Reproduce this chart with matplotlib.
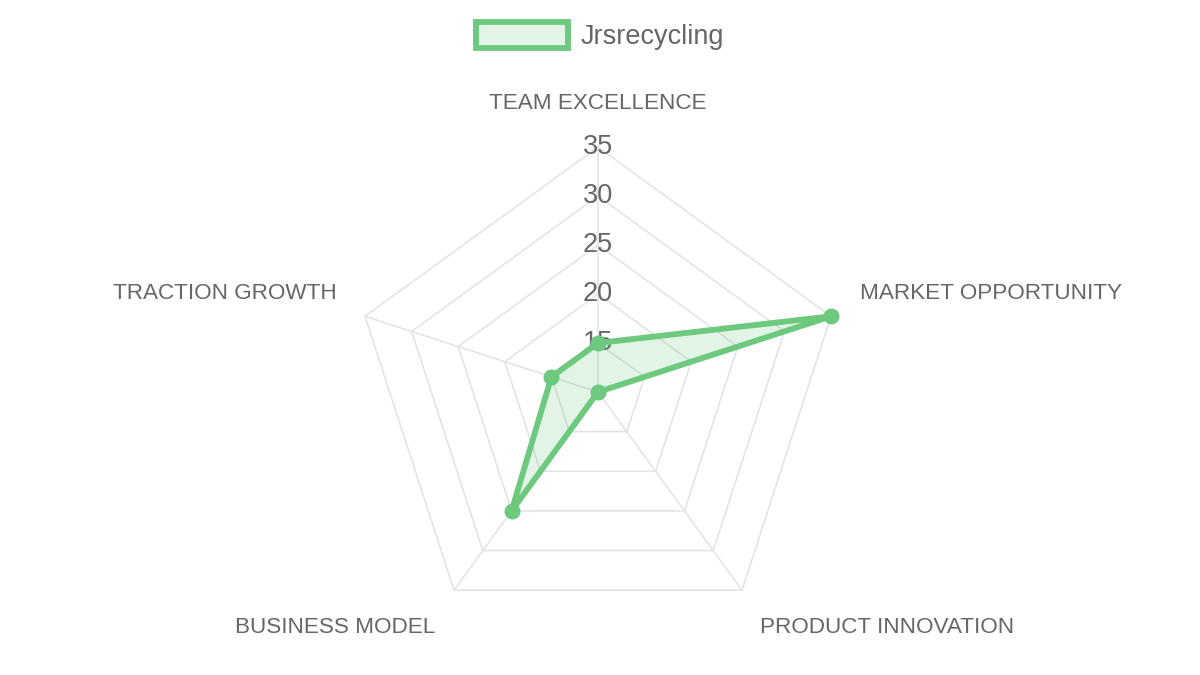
import numpy as np
import matplotlib
matplotlib.use("Agg")
import matplotlib.pyplot as plt
from matplotlib.patches import Patch

plt.rcParams['font.family'] = ['Liberation Sans', 'DejaVu Sans']

categories = ["TEAM EXCELLENCE", "MARKET OPPORTUNITY", "PRODUCT INNOVATION",
              "BUSINESS MODEL", "TRACTION GROWTH"]
values = [15, 35, 10, 25, 15]
series_name = "Jrsrecycling"
tick_values = [15, 20, 25, 30, 35]
r_min, r_max = 10, 35

line_color = "#6cc97d"
fill_color = (108/255, 201/255, 125/255, 0.2)
grid_color = "#e2e2e2"
text_color = "#666666"

fig = plt.figure(figsize=(12, 6.75), dpi=100)
ax = fig.add_axes([0.2942, 0.0563, 0.4083, 0.7259], projection="polar")
ax.set_theta_zero_location("N")
ax.set_theta_direction(-1)
ax.set_ylim(r_min, r_max)
ax.grid(False)
ax.spines["polar"].set_visible(False)
ax.set_xticks([])
ax.set_yticks([])
ax.patch.set_alpha(0)

n = len(categories)
angles = np.linspace(0, 2 * np.pi, n, endpoint=False)
closed_angles = np.concatenate([angles, angles[:1]])

# rings
for t in tick_values:
    ax.plot(closed_angles, [t] * (n + 1), color=grid_color, lw=1.1, zorder=1,
            clip_on=False)
# spokes
for a in angles:
    ax.plot([a, a], [r_min, r_max], color=grid_color, lw=1.1, zorder=1,
            clip_on=False)

# tick labels
for t in tick_values:
    ax.text(0, t, str(t), ha="center", va="center", fontsize=19.5,
            color=text_color, zorder=2)

# data
vals = np.array(values + values[:1], dtype=float)
ax.fill(closed_angles, vals, color=fill_color, zorder=3, lw=0, clip_on=False)
ax.plot(closed_angles, vals, color=line_color, lw=4.2, zorder=4,
        solid_joinstyle="round", solid_capstyle="round", clip_on=False)
ax.plot(angles, values, "o", color=line_color, ms=10.5, zorder=5, clip_on=False)

# point labels
offsets = [(0, 44, "center"), (29, 23, "left"), (18, -37, "left"),
           (-19, -37, "right"), (-28, 23, "right")]
for a, lab, (dx, dy, ha) in zip(angles, categories, offsets):
    ax.annotate(lab, xy=(a, r_max), xytext=(dx, dy), textcoords="offset pixels",
                ha=ha, va="center", fontsize=16.2, color=text_color,
                annotation_clip=False)

handle = Patch(facecolor=fill_color, edgecolor=line_color, linewidth=4.2)
fig.legend([handle], [series_name], loc="center", bbox_to_anchor=(0.5, 1 - 36/675),
           frameon=False, fontsize=19.5, handlelength=3.4, handleheight=1.1,
           handletextpad=0.45, labelcolor=text_color)

fig.savefig("out.png", dpi=100)
